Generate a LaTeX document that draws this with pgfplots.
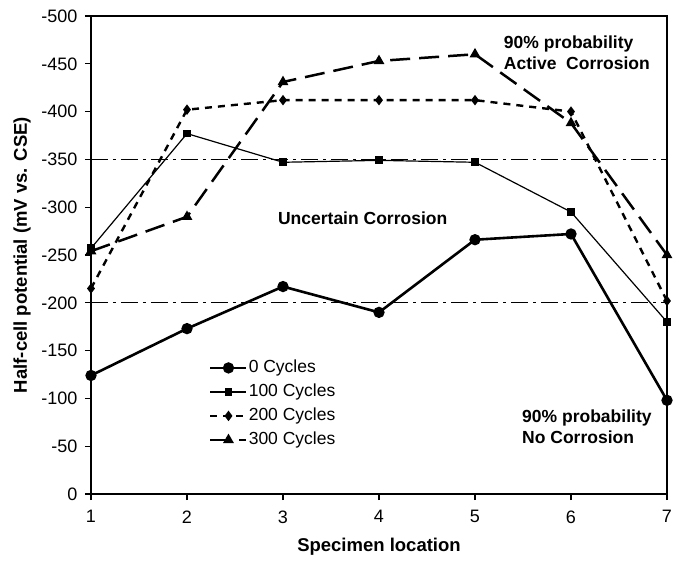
\documentclass[border=0pt]{standalone}
\usepackage{pgfplots}
\pgfplotsset{compat=1.18}
\usepackage{fontspec}
\setmainfont{Liberation Sans}
\begin{document}
\begin{tikzpicture}
\useasboundingbox (-91pt,-72pt) rectangle (592pt,494pt);
\begin{axis}[
  at={(0pt,0pt)}, anchor=south west,
  scale only axis,
  width=576pt, height=478pt,
  xmin=1, xmax=7, ymin=-500, ymax=0,
  y dir=reverse,
  xtick={1,...,7},
  ytick={-500,-450,...,0},
  tick align=outside,
  xtick pos=bottom, ytick pos=left,
  major tick length=6pt,
  axis line style={line width=1.8pt},
  every tick/.style={black, line width=1.3pt},
  tick label style={font=\fontsize{18}{20}\selectfont},
  xticklabel style={yshift=-7pt},
  yticklabel style={xshift=-4pt},
  /pgf/number format/assume math mode=true,
  xlabel={Specimen location},
  ylabel={Half-cell potential (mV vs. CSE)},
  every axis x label/.style={at={(axis description cs:0.5,0)}, yshift=-53pt, anchor=center, font=\fontsize{18.5}{20}\selectfont\bfseries},
  every axis y label/.style={at={(axis description cs:0,0.5)}, xshift=-69pt, rotate=90, anchor=center, font=\fontsize{18.5}{20}\selectfont\bfseries},
  legend style={draw=none, fill=none, inner sep=0pt, at={(axis cs:2.229,-141)}, anchor=north west,
    font=\fontsize{17.5}{20}\selectfont, row sep=7pt,
    nodes={inner xsep=1pt, inner ysep=1pt, text height=12pt, text depth=3pt}},
  legend cell align=left,
  legend image code/.code={\draw[mark repeat=2,mark phase=2,#1] plot coordinates {(0pt,0pt) (18pt,0pt) (36pt,0pt)};},
]
\addplot[black, line width=2.6pt, mark=*, mark size=4.3pt, mark options={solid}]
  coordinates {(1,-124) (2,-173) (3,-217) (4,-190) (5,-266) (6,-272) (7,-98)};
\addlegendentry{0 Cycles}
\addplot[black, line width=1.2pt, mark=square*, mark size=3.3pt, mark options={solid}]
  coordinates {(1,-257) (2,-377) (3,-347) (4,-349) (5,-347) (6,-295) (7,-180)};
\addlegendentry{100 Cycles}
\addplot[black, line width=2.4pt, dash pattern=on 7pt off 6pt, mark=diamond*, mark size=3.3pt, mark options={solid}]
  coordinates {(1,-215) (2,-402) (3,-412) (4,-412) (5,-412) (6,-400) (7,-202)};
\addlegendentry{200 Cycles}
\addplot[black, line width=2.5pt, dash pattern=on 20pt off 9pt, mark=triangle*, mark size=3.8pt, mark options={solid}]
  coordinates {(1,-254) (2,-290) (3,-431) (4,-453) (5,-460) (6,-388) (7,-250)};
\addlegendentry{300 Cycles}
\addplot[black, line width=1.3pt, dash pattern=on 17pt off 5pt on 3pt off 5pt, forget plot]
  coordinates {(1,-350) (7,-350)};
\addplot[black, line width=1.3pt, dash pattern=on 17pt off 5pt on 3pt off 5pt, forget plot]
  coordinates {(1,-200) (7,-200)};
\node[align=left, anchor=west, inner sep=0pt, font=\fontsize{17.5}{21}\selectfont\bfseries] at (axis cs:5.3,-462) {90\% probability\\Active\ \ Corrosion};
\node[anchor=center, inner sep=0pt, font=\fontsize{17.5}{21}\selectfont\bfseries] at (axis cs:3.83,-288) {Uncertain Corrosion};
\node[align=left, anchor=west, inner sep=0pt, font=\fontsize{17.5}{21}\selectfont\bfseries] at (axis cs:5.49,-70) {90\% probability\\No Corrosion};
\end{axis}
\end{tikzpicture}
\end{document}
